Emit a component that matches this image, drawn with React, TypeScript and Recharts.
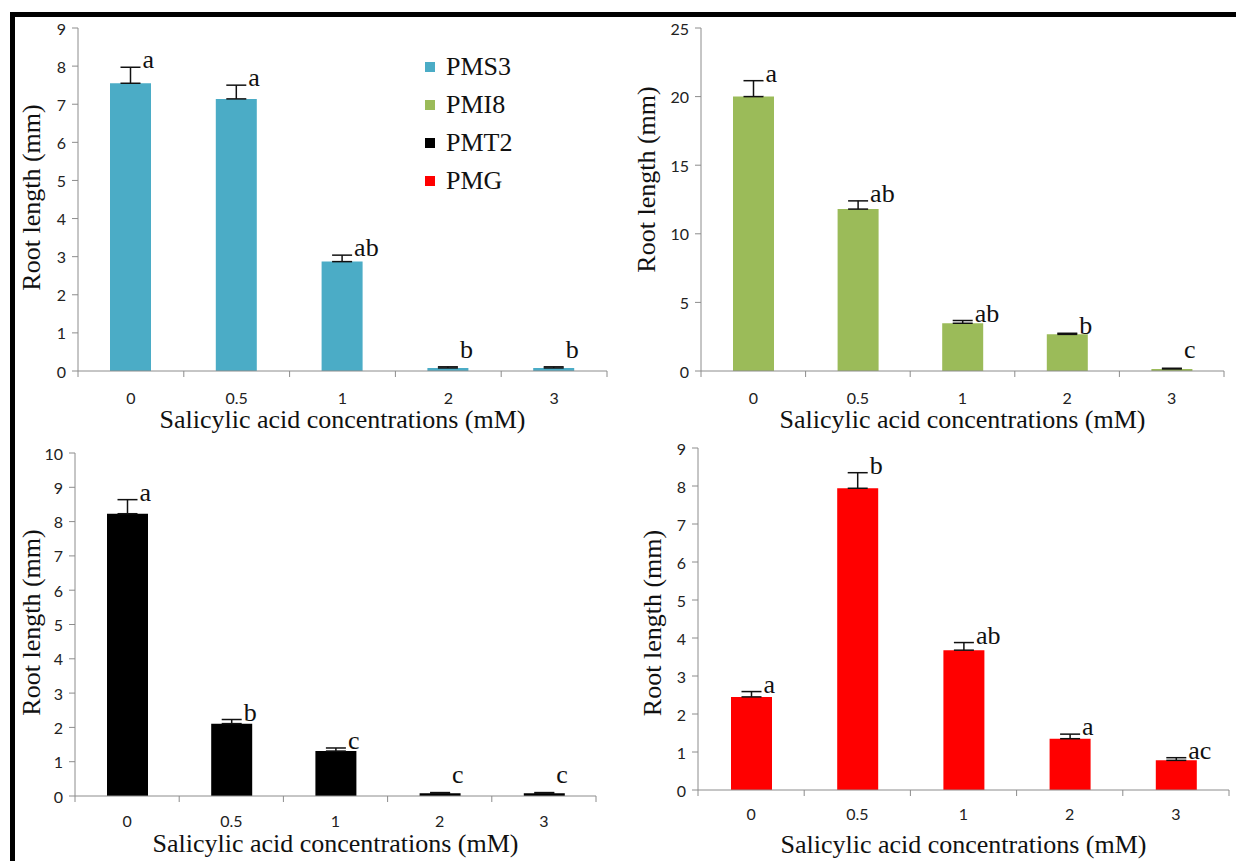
import React from 'react';
import { BarChart, Bar, XAxis, YAxis, ErrorBar, LabelList, Legend } from 'recharts';

const categories = ['0', '0.5', '1', '2', '3'];

const pms3Values = [7.55, 7.14, 2.87, 0.08, 0.08];
const pms3Errors = [0.42, 0.36, 0.17, 0.03, 0.03];
const pms3Letters = ['a', 'a', 'ab', 'b', 'b'];

const pmi8Values = [20.0, 11.8, 3.48, 2.67, 0.15];
const pmi8Errors = [1.16, 0.6, 0.2, 0.08, 0.05];
const pmi8Letters = ['a', 'ab', 'ab', 'b', 'c'];

const pmt2Values = [8.23, 2.11, 1.31, 0.08, 0.08];
const pmt2Errors = [0.41, 0.12, 0.09, 0.02, 0.02];
const pmt2Letters = ['a', 'b', 'c', 'c', 'c'];

const pmgValues = [2.45, 7.94, 3.68, 1.35, 0.78];
const pmgErrors = [0.14, 0.41, 0.2, 0.12, 0.07];
const pmgLetters = ['a', 'b', 'ab', 'a', 'ac'];

const pms3Ticks = [0, 1, 2, 3, 4, 5, 6, 7, 8, 9];
const pmi8Ticks = [0, 5, 10, 15, 20, 25];
const pmt2Ticks = [0, 1, 2, 3, 4, 5, 6, 7, 8, 9, 10];
const pmgTicks = [0, 1, 2, 3, 4, 5, 6, 7, 8, 9];

const legendNames = ['PMS3', 'PMI8', 'PMT2', 'PMG'];
const legendColors = ['#4bacc6', '#9bbb59', '#000000', '#ff0000'];

const SERIF = '"Liberation Serif", "Times New Roman", serif';
const SANS = 'Lato, "Open Sans", sans-serif';
const AXIS = '#8c8c8c';

const MARGIN_TOP = 20;
const X_AXIS_H = 75;

type Row = { conc: string; value: number; err: number[]; letter: string };

const buildRows = (values: number[], errors: number[], letters: string[]): Row[] =>
  categories.map((c, i) => ({ conc: c, value: values[i], err: [0, errors[i]], letter: letters[i] }));

type PanelProps = {
  rows: Row[];
  ticks: number[];
  color: string;
  left: number;
  top: number;
  yAxisWidth: number;
  plotWidth: number;
  plotHeight: number;
  marginRight: number;
  yTitleX: number;
  yTitleShift: number;
  tickDy: number;
  xTitleDy: number;
  showLegend?: boolean;
};

const Panel = (p: PanelProps) => {
  const width = p.yAxisWidth + p.plotWidth + p.marginRight;
  const height = MARGIN_TOP + p.plotHeight + X_AXIS_H;
  const yMax = p.ticks[p.ticks.length - 1];
  const pxPerUnit = p.plotHeight / yMax;
  const band = p.plotWidth / categories.length;
  const axisY = MARGIN_TOP + p.plotHeight;

  // ticks sit on the band edges, labels in the middle
  const renderXTick = (props: any) => {
    const { x, index } = props;
    return (
      <g>
        <line x1={x - band / 2} x2={x - band / 2} y1={axisY} y2={axisY + 6} stroke={AXIS} />
        {index === categories.length - 1 && (
          <line x1={x + band / 2} x2={x + band / 2} y1={axisY} y2={axisY + 6} stroke={AXIS} />
        )}
        <text x={x} y={axisY + p.tickDy} textAnchor="middle" dominantBaseline="central" fontFamily={SANS} fontSize={16} fill="#222">
          {props.payload?.value}
        </text>
      </g>
    );
  };

  const renderYTick = (props: any) => (
    <text x={p.yAxisWidth - 12} y={props.y} textAnchor="end" dominantBaseline="central" fontFamily={SANS} fontSize={16} fill="#222">
      {props.payload?.value}
    </text>
  );

  const renderYTitle = () => {
    const tx = p.yTitleX - p.left;
    const ty = MARGIN_TOP + p.plotHeight / 2 + p.yTitleShift;
    return (
      <text
        x={tx}
        y={ty}
        transform={`rotate(-90, ${tx}, ${ty})`}
        textAnchor="middle"
        dominantBaseline="central"
        fontFamily={SERIF}
        fontSize={26}
        fill="#111"
      >
        Root length (mm)
      </text>
    );
  };

  const renderXTitle = () => (
    <text
      x={p.yAxisWidth + p.plotWidth / 2}
      y={axisY + p.xTitleDy}
      textAnchor="middle"
      dominantBaseline="central"
      fontFamily={SERIF}
      fontSize={26}
      fill="#111"
    >
      Salicylic acid concentrations (mM)
    </text>
  );

  const renderLetter = (props: any) => {
    const vb = props.viewBox ?? props;
    const bx = vb.x ?? props.x;
    const by = vb.y ?? props.y;
    const bw = vb.width ?? props.width;
    const bh = vb.height ?? props.height;
    const idx = props.index;
    const barTop = Math.min(by, by + bh);
    const errTop = barTop - p.rows[idx].err[1] * pxPerUnit;
    const base = Math.min(errTop + 1, axisY - 13);
    return (
      <text x={bx + bw / 2 + 12} y={base} textAnchor="start" fontFamily={SERIF} fontSize={26} fill="#111">
        {props.value}
      </text>
    );
  };

  const renderLegend = () => (
    <div style={{ fontFamily: SERIF, fontSize: 26, color: '#111', lineHeight: 1 }}>
      {legendNames.map((n, i) => (
        <div key={n} style={{ display: 'flex', alignItems: 'center', height: 38 }}>
          <span style={{ width: 10, height: 10, background: legendColors[i], marginRight: 11 }} />
          {n}
        </div>
      ))}
    </div>
  );

  return (
    <div style={{ position: 'absolute', left: p.left, top: p.top, width, height }}>
      <BarChart
        width={width}
        height={height}
        data={p.rows}
        margin={{ top: MARGIN_TOP, right: p.marginRight, left: 0, bottom: 0 }}
        barSize={41}
      >
        <XAxis
          dataKey="conc"
          height={X_AXIS_H}
          stroke={AXIS}
          tickLine={false}
          tickSize={6}
          tickMargin={0}
          interval={0}
          tick={renderXTick}
          label={renderXTitle}
        />
        <YAxis
          width={p.yAxisWidth}
          domain={[0, yMax]}
          ticks={p.ticks}
          interval={0}
          stroke={AXIS}
          tickSize={6}
          tick={renderYTick}
          allowDataOverflow
          label={renderYTitle}
        />
        <Bar dataKey="value" fill={p.color} isAnimationActive={false}>
          <ErrorBar dataKey="err" direction="y" width={10} strokeWidth={1.5} stroke="#111" isAnimationActive={false} />
          <LabelList dataKey="letter" content={renderLetter} />
        </Bar>
        {p.showLegend && (
          <Legend
            layout="vertical"
            align="center"
            verticalAlign="middle"
            wrapperStyle={{ left: 410, top: 40, width: 'auto', height: 'auto' }}
            content={renderLegend}
          />
        )}
      </BarChart>
    </div>
  );
};

export default function App() {
  return (
    <div style={{ position: 'fixed', left: 0, top: 0, width: 1236, height: 861, background: '#fff', overflow: 'hidden' }}>
      <div
        style={{
          position: 'absolute',
          left: 10,
          top: 12,
          width: 1226,
          height: 849,
          borderTop: '5px solid #000',
          borderLeft: '5px solid #000',
          boxSizing: 'border-box',
        }}
      />
      <Panel
        rows={buildRows(pms3Values, pms3Errors, pms3Letters)}
        ticks={pms3Ticks}
        color={legendColors[0]}
        left={15}
        top={8}
        yAxisWidth={63}
        plotWidth={529}
        plotHeight={343}
        marginRight={8}
        yTitleX={31}
        yTitleShift={-2}
        tickDy={26}
        xTitleDy={48}
        showLegend
      />
      <Panel
        rows={buildRows(pmi8Values, pmi8Errors, pmi8Letters)}
        ticks={pmi8Ticks}
        color={legendColors[1]}
        left={617}
        top={8}
        yAxisWidth={84}
        plotWidth={523}
        plotHeight={343}
        marginRight={5}
        yTitleX={646}
        yTitleShift={-20}
        tickDy={26}
        xTitleDy={48}
      />
      <Panel
        rows={buildRows(pmt2Values, pmt2Errors, pmt2Letters)}
        ticks={pmt2Ticks}
        color={legendColors[2]}
        left={15}
        top={433}
        yAxisWidth={60}
        plotWidth={521}
        plotHeight={343}
        marginRight={8}
        yTitleX={31}
        yTitleShift={-2}
        tickDy={24}
        xTitleDy={47}
      />
      <Panel
        rows={buildRows(pmgValues, pmgErrors, pmgLetters)}
        ticks={pmgTicks}
        color={legendColors[3]}
        left={617}
        top={428}
        yAxisWidth={81}
        plotWidth={531}
        plotHeight={342}
        marginRight={5}
        yTitleX={652}
        yTitleShift={4}
        tickDy={23}
        xTitleDy={54}
      />
    </div>
  );
}
